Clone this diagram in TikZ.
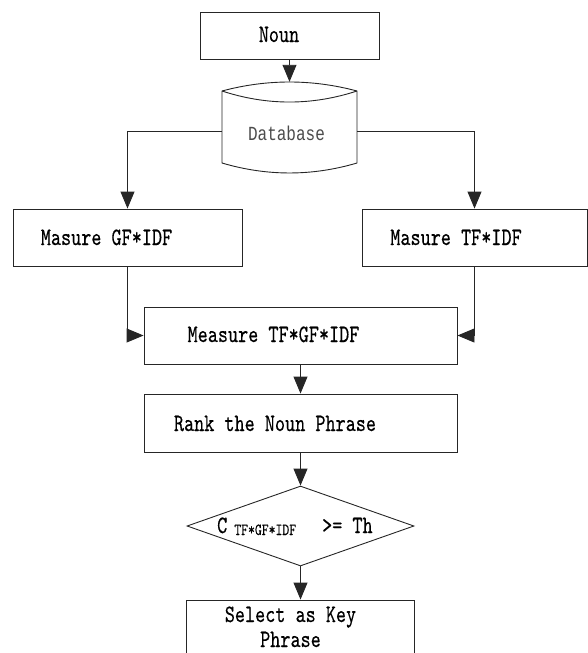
\documentclass[tikz,border=0pt]{standalone}
\usepackage{fontspec}
\usetikzlibrary{arrows.meta,shapes.geometric}
\newfontfamily\flowfont[FakeStretch=0.77,FakeBold=0.3]{lmmono10-regular.otf}
\newfontfamily\dbfont[FakeStretch=0.8]{Liberation Mono}
\newcommand{\bigtext}{\flowfont\fontsize{25}{25}\selectfont}
\newcommand{\subtext}{\flowfont\fontsize{17}{17}\selectfont}
\newcommand{\dbtext}{\dbfont\fontsize{20}{20}\selectfont}

\begin{document}
\begin{tikzpicture}[x=1pt,y=-1pt,
  box/.style={draw=black!85,line width=0.9pt,inner sep=0pt},
  lbl/.style={anchor=base,inner sep=0pt,font=\bigtext},
  arr/.style={draw=black!85,line width=0.9pt,-{Triangle[length=17pt,width=14pt]}}]
\useasboundingbox (0,0) rectangle (588,653);
% boxes
\node[box,minimum width=179pt,minimum height=47pt] (noun) at (289.5,35.5) {};
\node[minimum width=135pt,minimum height=91pt,inner sep=0pt] (db) at (289.5,127.5) {};
\node[box,minimum width=229pt,minimum height=57pt] (gf) at (127.5,237.5) {};
\node[box,minimum width=225pt,minimum height=57pt] (tf) at (474.5,237.5) {};
\node[box,minimum width=313pt,minimum height=57pt] (measure) at (300.5,335.5) {};
\node[box,minimum width=313pt,minimum height=58pt] (rank) at (300.5,423) {};
\node[box,shape=diamond,minimum width=227pt,minimum height=80pt] (cond) at (300.5,526) {};
\node[box,minimum width=228pt,minimum height=64pt] (select) at (300.5,632) {};
% database drum
\draw[box] (222,91) .. controls (267,79) and (312,79) .. (357,91) -- (357,163)
  .. controls (312,176.3) and (267,176.3) .. (222,163) -- cycle;
\draw[box] (222,91) .. controls (267,105.7) and (312,105.7) .. (357,91);
% texts
\node[lbl] (noun-t) at (279,42) {Noun};
\node[lbl,font=\dbtext,text=black!70] (db-t) at (286.5,140) {Database};
\node[lbl] (gf-t) at (106.5,245) {Masure GF*IDF};
\node[lbl] (tf-t) at (456,245) {Masure TF*IDF};
\node[lbl] (measure-t) at (273.5,342) {Measure TF*GF*IDF};
\node[lbl] (rank-t) at (275,431) {Rank the Noun Phrase};
\node[lbl,anchor=base west] (cond-t) at (217,533)
  {C\hspace{7pt}\raisebox{-2pt}{\subtext TF*GF*IDF}\hspace{26pt}>= Th};
\node[lbl,align=center] (select-t) at (290.5,647) {Select as Key\\Phrase};
% connectors
\draw[arr] (noun) -- (db);
\draw[arr] ([yshift=-3.5pt]db.west) -| (gf);
\draw[arr] ([yshift=-3.5pt]db.east) -| (tf);
\draw[arr] (gf) |- (measure);
\draw[arr] (tf) |- (measure);
\draw[arr] (measure) -- (rank);
\draw[arr] (rank) -- (cond);
\draw[arr] (cond) -- (select);
\end{tikzpicture}
\end{document}
